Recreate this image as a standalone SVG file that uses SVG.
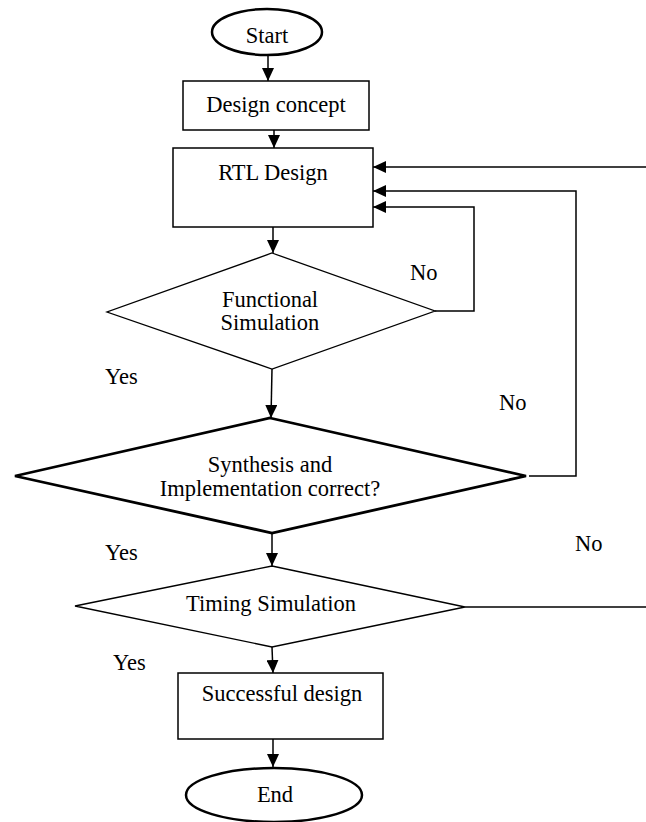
<svg xmlns="http://www.w3.org/2000/svg" width="646" height="822" viewBox="0 0 646 822">
<style>
text{font-family:"Liberation Serif","Times New Roman",serif;font-size:22.5px;fill:#000;text-anchor:middle}
.box{fill:#fff;stroke:#000;stroke-width:1.5}
.ell{fill:#fff;stroke:#000;stroke-width:2.5}
.dia{fill:#fff;stroke:#000;stroke-width:1.3}
.diab{fill:#fff;stroke:#000;stroke-width:2.8}
.con{fill:none;stroke:#000;stroke-width:1.5}
.lbl{text-anchor:start}
</style>
<defs>
<marker id="ah" markerUnits="userSpaceOnUse" markerWidth="14" markerHeight="12" refX="13" refY="6" orient="auto">
<path d="M0,0 L13,6 L0,12 Z" fill="#000"/>
</marker>
</defs>
<g id="connectors">
<line class="con" x1="268" y1="55" x2="268" y2="81" marker-end="url(#ah)"/>
<line class="con" x1="274" y1="130" x2="274" y2="148" marker-end="url(#ah)"/>
<line class="con" x1="273" y1="227" x2="273" y2="253" marker-end="url(#ah)"/>
<line class="con" x1="272" y1="369" x2="271" y2="418" marker-end="url(#ah)"/>
<line class="con" x1="272" y1="533" x2="272" y2="566" marker-end="url(#ah)"/>
<line class="con" x1="272" y1="647" x2="273" y2="673" marker-end="url(#ah)"/>
<line class="con" x1="273" y1="739" x2="273" y2="767" marker-end="url(#ah)"/>
<polyline class="con" points="435,311 474,311 474,207 373,207" marker-end="url(#ah)"/>
<polyline class="con" points="529,476 576,476 576,191 373,191" marker-end="url(#ah)"/>
<line class="con" x1="646" y1="167" x2="373" y2="167" marker-end="url(#ah)"/>
<line class="con" x1="465" y1="607" x2="646" y2="607"/>
</g>
<g id="start">
<ellipse class="ell" cx="267" cy="32" rx="55" ry="23"/>
<text x="267" y="43">Start</text>
</g>
<g id="design-concept">
<rect class="box" x="183" y="81" width="186" height="49"/>
<text x="276" y="112">Design concept</text>
</g>
<g id="rtl-design">
<rect class="box" x="173" y="148" width="200" height="79"/>
<text x="273" y="180">RTL Design</text>
</g>
<g id="functional-simulation">
<polygon class="dia" points="272,253 435,311 272,369 107,312"/>
<text x="270" y="307">Functional</text>
<text x="270" y="330">Simulation</text>
</g>
<g id="synthesis">
<polygon class="diab" points="270,418 526,476 272,533 15,476"/>
<text x="270" y="472">Synthesis and</text>
<text x="270" y="496">Implementation correct?</text>
</g>
<g id="timing-simulation">
<polygon class="dia" points="272,566 465,607 272,647 75,606"/>
<text x="271" y="611">Timing Simulation</text>
</g>
<g id="successful-design">
<rect class="box" x="178" y="673" width="205" height="66"/>
<text x="282" y="701">Successful design</text>
</g>
<g id="end">
<ellipse class="ell" cx="274" cy="795" rx="88" ry="27"/>
<text x="275" y="802">End</text>
</g>
<g id="labels">
<text class="lbl" x="410" y="280">No</text>
<text class="lbl" x="105" y="384">Yes</text>
<text class="lbl" x="499" y="410">No</text>
<text class="lbl" x="105" y="560">Yes</text>
<text class="lbl" x="575" y="551">No</text>
<text class="lbl" x="113" y="670">Yes</text>
</g>
</svg>
